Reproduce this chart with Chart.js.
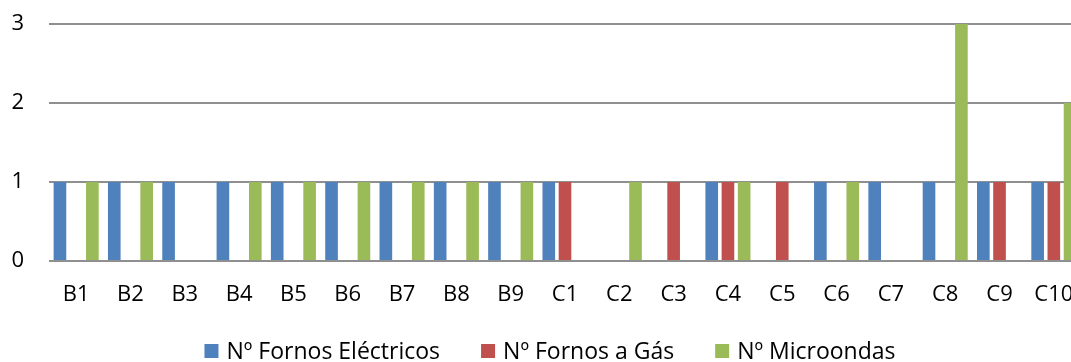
<!DOCTYPE html>
<html>
<head>
<meta charset="utf-8">
<script src="https://cdn.jsdelivr.net/npm/chart.js@4"></script>
<style>
  html, body { margin: 0; padding: 0; background: #fff; overflow: hidden; }
  #wrap { width: 1100px; height: 362px; }
</style>
</head>
<body>
<div id="wrap"><canvas id="chart" width="1100" height="362"></canvas></div>
<script>
// Categories (rooms) and appliance counts per room
const categories = ['B1','B2','B3','B4','B5','B6','B7','B8','B9','C1','C2','C3','C4','C5','C6','C7','C8','C9','C10'];
const fornosEletricos = [1,1,1,1,1,1,1,1,1,1,0,0,1,0,1,1,1,1,1];
const fornosGas       = [0,0,0,0,0,0,0,0,0,1,0,1,1,1,0,0,0,1,1];
const microondas      = [1,1,0,1,1,1,1,1,1,0,1,0,1,0,1,0,3,0,2];
const yTicks = [0, 1, 2, 3];
const seriesNames = ['Nº Fornos Eléctricos', 'Nº Fornos a Gás', 'Nº Microondas'];
const seriesColors = ['#4F81BD', '#C0504D', '#9BBB59'];

const FONT = '"Open Sans", "Noto Sans", sans-serif';

// Legend drawn underneath the plot: square swatch followed by the series name
const bottomLegend = {
  id: 'bottomLegend',
  afterDraw(chart) {
    const ctx = chart.ctx;
    const box = 14, textGap = 8, itemGap = 41;
    ctx.save();
    ctx.font = '23px ' + FONT;
    ctx.textBaseline = 'middle';
    ctx.textAlign = 'left';
    const items = chart.data.datasets.map(ds => ({
      text: ds.label, color: ds.backgroundColor, w: ctx.measureText(ds.label).width
    }));
    const total = items.reduce((s, it) => s + box + textGap + it.w, 0) + itemGap * (items.length - 1);
    let x = chart.width / 2 - total / 2;
    const y = 351;
    items.forEach(it => {
      ctx.fillStyle = it.color;
      ctx.fillRect(x, y - box / 2, box, box);
      ctx.fillStyle = '#000';
      ctx.fillText(it.text, x + box + textGap, y + 1);
      x += box + textGap + it.w + itemGap;
    });
    ctx.restore();
  }
};

const datasets = [fornosEletricos, fornosGas, microondas].map((values, i) => ({
  label: seriesNames[i],
  data: values,
  backgroundColor: seriesColors[i],
  borderWidth: 0,
  categoryPercentage: 0.895,
  barPercentage: 0.78
}));

new Chart(document.getElementById('chart'), {
  type: 'bar',
  data: { labels: categories, datasets },
  plugins: [bottomLegend],
  options: {
    responsive: false,
    devicePixelRatio: 1,
    animation: false,
    layout: { padding: { left: 0, right: 19, top: 24, bottom: 60 } },
    plugins: { legend: { display: false }, tooltip: { enabled: false } },
    scales: {
      x: {
        grid: { display: false, drawTicks: false },
        border: { display: false },
        ticks: { color: '#000', font: { family: FONT, size: 22 }, padding: 21, maxRotation: 0, autoSkip: false },
        afterFit(scale) { scale.height = 41; scale.paddingLeft = 0; scale.paddingRight = 0; }
      },
      y: {
        min: 0,
        max: 3,
        afterBuildTicks(scale) { scale.ticks = yTicks.map(v => ({ value: v })); },
        grid: { color: '#8f8f8f', lineWidth: 2, drawTicks: false },
        border: { display: false },
        ticks: { color: '#000', font: { family: FONT, size: 22 }, padding: 25 },
        afterFit(scale) { scale.width = 49; scale.paddingTop = 0; scale.paddingBottom = 0; }
      }
    }
  }
});
</script>
</body>
</html>
